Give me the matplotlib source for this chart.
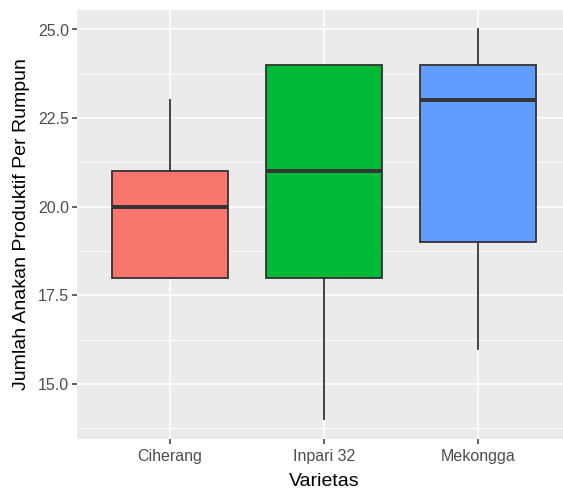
import matplotlib
matplotlib.use("Agg")
import matplotlib.pyplot as plt
from matplotlib.ticker import MultipleLocator

plt.rcParams['font.family'] = ['Liberation Sans', 'DejaVu Sans']

categories = ["Ciherang", "Inpari 32", "Mekongga"]
whislo = [18, 14, 16]
q1 = [18, 18, 19]
med = [20, 21, 23]
q3 = [21, 24, 24]
whishi = [23, 24, 25]
colors = ["#F8766D", "#00BA38", "#619CFF"]
yticks = [15.0, 17.5, 20.0, 22.5, 25.0]

fig = plt.figure(figsize=(5.63, 4.9), dpi=100)
ax = fig.add_axes([77/563, 1-439/490, (571-77)/563, (439-10)/490])
ax.set_facecolor("#EBEBEB")

stats = []
for i, c in enumerate(categories):
    stats.append(dict(label=c, whislo=whislo[i], q1=q1[i], med=med[i], q3=q3[i], whishi=whishi[i], fliers=[]))

bp = ax.bxp(stats, positions=[1, 2, 3], widths=0.75, patch_artist=True, showcaps=False,
            boxprops=dict(edgecolor="#333333", linewidth=1.3),
            medianprops=dict(color="#333333", linewidth=2.8, solid_capstyle='butt'),
            whiskerprops=dict(color="#333333", linewidth=1.3), zorder=3)
for p, col in zip(bp['boxes'], colors):
    p.set_facecolor(col)

ax.set_xlim(0.4, 3.6)
ax.set_ylim(13.45, 25.55)
ax.set_yticks(yticks)
ax.set_yticklabels([f"{v:.1f}" for v in yticks])
ax.yaxis.set_minor_locator(MultipleLocator(1.25))
ax.set_xticks([1, 2, 3])
ax.set_xticklabels(categories)
ax.grid(which='major', color='white', linewidth=1.1, zorder=0)
ax.grid(which='minor', color='white', linewidth=0.55, zorder=0)
ax.set_axisbelow(True)
for s in ax.spines.values():
    s.set_visible(False)
ax.tick_params(axis='both', which='major', length=3.5, width=1.1, color='#333333',
               labelcolor='#4D4D4D', labelsize=11.5, pad=2)
ax.tick_params(axis='x', which='major', pad=4)
ax.tick_params(axis='both', which='minor', length=0)
ax.set_xlabel("Varietas", fontsize=14, color='black', labelpad=6)
ax.set_ylabel("Jumlah Anakan Produktif Per Rumpun", fontsize=14, color='black', labelpad=6)

fig.savefig("out.png", dpi=100)
